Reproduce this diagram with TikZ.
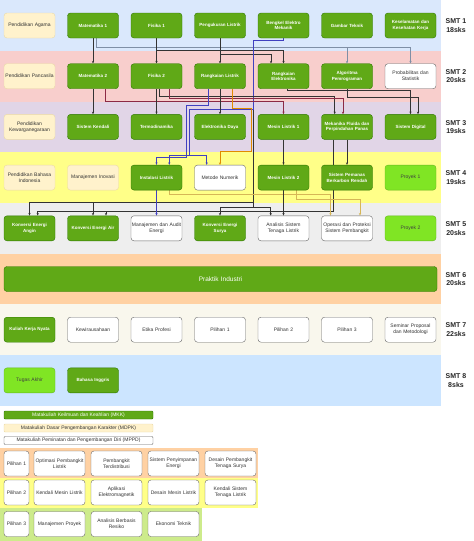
\documentclass[tikz,border=0pt]{standalone}
\usepackage{fontspec}
\setmainfont{Liberation Sans}
\usetikzlibrary{arrows.meta,calc}

\definecolor{mkkfill}{HTML}{60A917}
\definecolor{mkkline}{HTML}{2D7600}
\definecolor{mdpkfill}{HTML}{FFF2CC}
\definecolor{mdpkline}{HTML}{EAD9A6}
\definecolor{projfill}{HTML}{80E524}
\definecolor{boxline}{HTML}{666666}
\definecolor{wiredark}{HTML}{333333}
\definecolor{wiregrey}{HTML}{7F8FA6}
\definecolor{wirered}{HTML}{8C2A45}
\definecolor{wireblue}{HTML}{4040C0}
\definecolor{wireorange}{HTML}{E08A00}
\definecolor{wireyellow}{HTML}{D6B656}
\definecolor{bandone}{HTML}{DAE8FC}
\definecolor{bandtwo}{HTML}{F8CECC}
\definecolor{bandthree}{HTML}{E1D5E7}
\definecolor{bandfour}{HTML}{FFFF88}
\definecolor{bandfive}{HTML}{EEEEEE}
\definecolor{bandsix}{HTML}{FFD1A3}
\definecolor{bandseven}{HTML}{F9F7ED}
\definecolor{bandeight}{HTML}{CCE5FF}
\definecolor{bandpil}{HTML}{CDEB8B}

\pgfdeclarelayer{bands}
\pgfdeclarelayer{wires}
\pgfsetlayers{bands,wires,main}

\tikzset{
  course/.style={rounded corners=3pt, minimum width=51pt, minimum height=25pt,
    text width=51pt, align=center, inner xsep=0pt, inner ysep=1pt,
    font=\fontsize{5}{6}\selectfont},
  mkk/.style={course, fill=mkkfill, draw=mkkline, text=white,
    font=\fontsize{4.5}{5.6}\selectfont\bfseries},
  mdpk/.style={course, fill=mdpkfill, draw=mdpkline, text=black!80},
  mppd/.style={course, fill=white, draw=boxline, text=black!80},
  proj/.style={course, fill=projfill, draw=projfill!80!black, text=black!75},
  pilhead/.style={mppd, minimum width=25pt, text width=25pt},
  sem/.style={font=\bfseries\fontsize{7}{8.6}\selectfont, align=center, text=black!85},
  legend/.style={minimum width=149pt, minimum height=8pt, inner sep=0pt,
    rounded corners=1pt, font=\fontsize{5}{5.6}\selectfont},
  wire/.style={line width=0.5pt, draw=wiredark, -{Stealth[length=2.6pt,width=2.2pt]}},
}

\begin{document}
\begin{tikzpicture}[x=1pt, y=-1pt]
  \useasboundingbox (0,0) rectangle (474,541);

  % semester bands and the three elective bands
  \begin{pgfonlayer}{bands}
    \fill[bandone]   (0,0)     rectangle (440.5,50.9);
    \fill[bandtwo]   (0,50.9)  rectangle (440.5,101.6);
    \fill[bandthree] (0,101.6) rectangle (440.5,152.3);
    \fill[bandfour]  (0,152.3) rectangle (440.5,203);
    \fill[bandfive]  (0,203)   rectangle (440.5,253.7);
    \fill[bandsix]   (0,253.7) rectangle (440.5,304.4);
    \fill[bandseven] (0,304.4) rectangle (440.5,355.1);
    \fill[bandeight] (0,355.1) rectangle (440.5,405.8);
    \fill[bandsix]   (0,448)   rectangle (258,477.5);
    \fill[bandfour]  (0,477.5) rectangle (258,508);
    \fill[bandpil]   (0,508)   rectangle (202,541);
  \end{pgfonlayer}

  % semester 1
  \node[mdpk] (agama) at (29.5,25.5)  {Pendidikan Agama};
  \node[mkk]  (mat1)  at (93,25.5)    {Matematika 1};
  \node[mkk]  (fis1)  at (156.5,25.5) {Fisika 1};
  \node[mkk]  (peng)  at (220,25.5)   {Pengukuran Listrik};
  \node[mkk]  (beng)  at (283.5,25.5) {Bengkel Elektro\\Mekanik};
  \node[mkk]  (gt)    at (347,25.5)   {Gambar Teknik};
  \node[mkk]  (k3)    at (410.5,25.5) {Keselamatan dan\\Kesehatan Kerja};
  % semester 2
  \node[mdpk] (pancasila) at (29.5,76.2) {Pendidikan Pancasila};
  \node[mkk]  (mat2) at (93,76.2)    {Matematika 2};
  \node[mkk]  (fis2) at (156.5,76.2) {Fisika 2};
  \node[mkk]  (rl)   at (220,76.2)   {Rangkaian Listrik};
  \node[mkk]  (rel)  at (283.5,76.2) {Rangkaian\\Elektronika};
  \node[mkk]  (algo) at (347,76.2)   {Algoritma\\Pemrograman};
  \node[mppd] (prob) at (410.5,76.2) {Probabilitas dan\\Statistik};
  % semester 3
  \node[mdpk] (kwn)   at (29.5,126.9)  {Pendidikan\\Kewarganegaraan};
  \node[mkk]  (sk)    at (93,126.9)    {Sistem Kendali};
  \node[mkk]  (termo) at (156.5,126.9) {Termodinamika};
  \node[mkk]  (ed)    at (220,126.9)   {Elektronika Daya};
  \node[mkk]  (ml1)   at (283.5,126.9) {Mesin Listrik 1};
  \node[mkk]  (mek)   at (347,126.9)   {Mekanika Fluida dan\\Perpindahan Panas};
  \node[mkk]  (sd)    at (410.5,126.9) {Sistem Digital};
  % semester 4
  \node[mdpk] (bindo) at (29.5,177.6)  {Pendidikan Bahasa\\Indonesia};
  \node[mdpk] (inov)  at (93,177.6)    {Manajemen Inovasi};
  \node[mkk]  (inst)  at (156.5,177.6) {Instalasi Listrik};
  \node[mppd] (mn)    at (220,177.6)   {Metode Numerik};
  \node[mkk]  (ml2)   at (283.5,177.6) {Mesin Listrik 2};
  \node[mkk]  (spb)   at (347,177.6)   {Sistem Pemanas\\Berkarbon Rendah};
  \node[proj] (pro1)  at (410.5,177.6) {Proyek 1};
  % semester 5
  \node[mkk]  (kea)   at (29.5,228.3)  {Konversi Energi\\Angin};
  \node[mkk]  (keair) at (93,228.3)    {Konversi Energi Air};
  \node[mppd] (mae)   at (156.5,228.3) {Manajemen dan Audit\\Energi};
  \node[mkk]  (kes)   at (220,228.3)   {Konversi Energi\\Surya};
  \node[mppd] (ast)   at (283.5,228.3) {Analisis Sistem\\Tenaga Listrik};
  \node[mppd] (opsp)  at (347,228.3)   {Operasi dan Proteksi\\Sistem Pembangkit};
  \node[proj] (pro2)  at (410.5,228.3) {Proyek 2};
  % semester 6
  \node[mkk, minimum width=433pt, text width=433pt, font=\fontsize{6.5}{8}\selectfont]
    (pi) at (220.5,279) {Praktik Industri};
  % semester 7
  \node[mkk]  (kkn)  at (29.5,329.7)  {Kuliah Kerja Nyata};
  \node[mppd] (kwu)  at (93,329.7)    {Kewirausahaan};
  \node[mppd] (etika) at (156.5,329.7) {Etika Profesi};
  \node[mppd] (pil1) at (220,329.7)   {Pilihan 1};
  \node[mppd] (pil2) at (283.5,329.7) {Pilihan 2};
  \node[mppd] (pil3) at (347,329.7)   {Pilihan 3};
  \node[mppd] (smp)  at (410.5,329.7) {Seminar Proposal\\dan Metodologi};
  % semester 8
  \node[proj] (ta)   at (29.5,380.4)  {Tugas Akhir};
  \node[mkk]  (bing) at (93,380.4)    {Bahasa Inggris};

  % semester labels
  \node[sem] (smt1) at (456,25.5)  {SMT 1\\18sks};
  \node[sem] (smt2) at (456,76.2)  {SMT 2\\20sks};
  \node[sem] (smt3) at (456,126.9) {SMT 3\\19sks};
  \node[sem] (smt4) at (456,177.6) {SMT 4\\19sks};
  \node[sem] (smt5) at (456,228.3) {SMT 5\\20sks};
  \node[sem] (smt6) at (456,279)   {SMT 6\\20sks};
  \node[sem] (smt7) at (456,329.7) {SMT 7\\22sks};
  \node[sem] (smt8) at (456,380.4) {SMT 8\\8sks};

  % legend
  \node[legend, fill=mkkfill, draw=mkkline, text=white] (keymkk) at (78.5,415)
    {Matakuliah Keilmuan dan Keahlian (MKK)};
  \node[legend, fill=mdpkfill, draw=mdpkline, text=black!80] (keymdpk) at (78.5,428)
    {Matakuliah Dasar Pengembangan Karakter (MDPK)};
  \node[legend, fill=white, draw=boxline, text=black!80] (keymppd) at (78.5,440.5)
    {Matakuliah Peminatan dan Pengembangan Diri (MPPD)};

  % electives
  \node[pilhead] (pa) at (16.5,463.5) {Pilihan 1};
  \node[mppd] (pa1) at (59.5,463.5)  {Optimasi Pembangkit\\Listrik};
  \node[mppd] (pa2) at (116.5,463.5) {Pembangkit\\Terdistribusi};
  \node[mppd] (pa3) at (173.5,463.5) {Sistem Penyimpanan\\Energi};
  \node[mppd] (pa4) at (230.5,463.5) {Desain Pembangkit\\Tenaga Surya};
  \node[pilhead] (pb) at (16.5,492.5) {Pilihan 2};
  \node[mppd] (pb1) at (59.5,492.5)  {Kendali Mesin Listrik};
  \node[mppd] (pb2) at (116.5,492.5) {Aplikasi\\Elektromagnetik};
  \node[mppd] (pb3) at (173.5,492.5) {Desain Mesin Listrik};
  \node[mppd] (pb4) at (230.5,492.5) {Kendali Sistem\\Tenaga Listrik};
  \node[pilhead] (pc) at (16.5,524) {Pilihan 3};
  \node[mppd] (pc1) at (59.5,524)  {Manajemen Proyek};
  \node[mppd] (pc2) at (116.5,524) {Analisis Berbasis\\Resiko};
  \node[mppd] (pc3) at (173.5,524) {Ekonomi Teknik};

  \begin{pgfonlayer}{wires}
    % semester 1 to 2
    \draw[wire] (mat1.south) -- (mat2.north);
    \draw[wire, draw=wiregrey] ([xshift=3.5pt]mat1.south) -- ++(0,8.7) -| (algo.north);
    \draw[wire, draw=wiregrey] ([xshift=3.5pt]mat1.south) -- ++(0,8.7) -| (prob.north);
    \draw[wire] (fis1.south) -- (fis2.north);
    \draw[wire] (fis1.south) -- ++(0,12.5) -| (rel.north);
    \draw[wire] (peng.south) -- (rl.north);
    \draw[wire] (peng.south) -- ++(0,16) -| ([xshift=-12.5pt]rel.north);
    % Bengkel: the long drop to semester 5 first, the blue branch over it
    \draw[wire] (beng.south) -- ++(0,2) -| (253.3,202.7) -| (kea.north);
    \draw[wire] (253.3,202.7) -| (keair.north);
    \draw[wire] (253.3,202.7) -- (253.3,207.7) -| (kes.north);
    \draw[wire] (253.3,207.7) -| ([xshift=-12.8pt]ast.north);
    \draw[wire, draw=wireblue] (beng.south) -- ++(0,2) -| (253.3,109.3) -| (189.7,155)
      -| ([xshift=12.8pt]inst.north);
    \draw[wire, draw=wireblue] (189.7,155) -| ([xshift=-13.3pt]mn.north);
    % semester 2 to 3
    \draw[wire] (mat2.south) -- (sk.north);
    \draw[wire, draw=wirered] ([xshift=12.3pt]mat2.south) -- ++(0,12.3) -| (ml1.north);
    \draw[wire] (fis2.south) -- (termo.north);
    \draw[wire] ([xshift=3.2pt]fis2.south) -- ++(0,7.3) -| ([xshift=-12.3pt]mek.north);
    \draw[wire, draw=wirered] ([xshift=13.2pt]fis2.south) -- ++(0,9.6) -| ([xshift=-4pt]mek.north);
    \draw[wire, draw=wireblue] ([xshift=-12pt]rl.south) -- ++(0,16.3) -| (186.3,157)
      -| (inst.north);
    \draw[wire] (rl.south) -- (ed.north);
    \draw[wire, draw=wireorange] ([xshift=12pt]rl.south) -- ++(0,19) -| (251.3,151.7)
      -| (mn.north);
    \draw[wire] ([xshift=3.8pt]rel.south) -- ++(0,1.6) -| (sd.north);
    \draw[wire] (algo.south) -- ++(0,8.3) -| ([xshift=7.5pt]sd.north);
    % semester 3 to 4
    \draw[wire] (ml1.south) -- (ml2.north);
    \draw[wire] (mek.south) -- (spb.north);
    % semester 4 to 5
    \draw[wire] ([xshift=-13.5pt]mek.south) -- (333.5,211) -| ([xshift=8.2pt]kea.north);
    \draw[wire] (333.5,211) -| ([xshift=13pt]keair.north);
    \draw[wire, draw=wireblue] (inst.south) -- (mae.north);
    \draw[wire, draw=wireyellow] ([xshift=12.8pt]inst.south) -- ++(0,4.2) -| ([xshift=-16.5pt]opsp.north);
    \draw[wire] (ml2.south) -- (ast.north);
    \draw[wire, draw=wireyellow] ([xshift=13.2pt]ml2.south) -- ++(0,8.6) -| ([xshift=13pt]opsp.north);
  \end{pgfonlayer}
\end{tikzpicture}
\end{document}
